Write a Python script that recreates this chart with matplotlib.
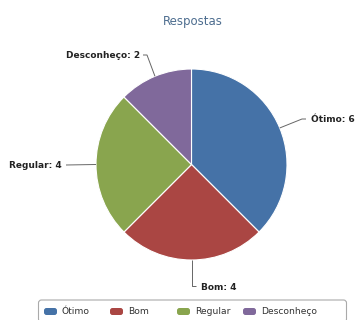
import matplotlib
matplotlib.use("Agg")
import matplotlib.pyplot as plt
from matplotlib.patches import FancyBboxPatch
import numpy as np

categories = ["Ótimo", "Bom", "Regular", "Desconheço"]
values = [6, 4, 4, 2]
colors = ["#4572A7", "#AA4643", "#89A54E", "#80699B"]
title = "Respostas"

W, H = 356, 320
fig = plt.figure(figsize=(W / 100, H / 100), dpi=100)
ax = fig.add_axes([0, 0, 1, 1])

def Y(y):
    return H - y

cx, cy, r = 191.5, 164.5, 95.5
wedges, _ = ax.pie(values, colors=colors, startangle=90, counterclock=False,
                   center=(cx, Y(cy)), radius=r,
                   wedgeprops=dict(edgecolor="white", linewidth=0.8))
ax.set_xlim(0, W)
ax.set_ylim(0, H)
ax.set_aspect("equal")
ax.axis("off")

ax.text(193, Y(21), title, ha="center", va="center", fontsize=8.5,
        color="#4d6d8f")

# connector layout: (elbow, end, text anchor, ha)
layout = [
    ((302, 119), (306, 119), (311, 119), "left"),
    ((191.5, 286), (196, 286), (201, 287), "left"),
    ((66, 165), (66, 165), (62, 165), "right"),
    ((147, 55), (143, 55), (140, 55), "right"),
]
for w, cat, val, (elb, end, txt, ha) in zip(wedges, categories, values, layout):
    ang = np.deg2rad((w.theta1 + w.theta2) / 2)
    ex, ey = cx + r * np.cos(ang), Y(cy) + r * np.sin(ang)
    ax.plot([ex, elb[0], end[0]], [ey, Y(elb[1]), Y(end[1])],
            color="#666666", lw=0.7, solid_capstyle="butt")
    ax.text(txt[0], Y(txt[1]), f"{cat}: {val}", ha=ha, va="center",
            fontsize=6.5, fontweight="bold", color="#222222")

# legend (drawn manually to match the original layout)
frame = FancyBboxPatch((38.5, Y(322)), 308, 22, boxstyle="round,pad=0,rounding_size=3",
                       facecolor="white", edgecolor="#aaaaaa", linewidth=0.8,
                       clip_on=False)
ax.add_patch(frame)
leg_x = [44, 110, 177, 243]
for x0, cat, col in zip(leg_x, categories, colors):
    ax.add_patch(FancyBboxPatch((x0, Y(315)), 13, 7,
                                boxstyle="round,pad=0,rounding_size=2.5",
                                facecolor=col, edgecolor="none"))
    ax.text(x0 + 18, Y(312), cat, ha="left", va="center", fontsize=6.6,
            color="#333333")

fig.savefig("out.png", dpi=100)
